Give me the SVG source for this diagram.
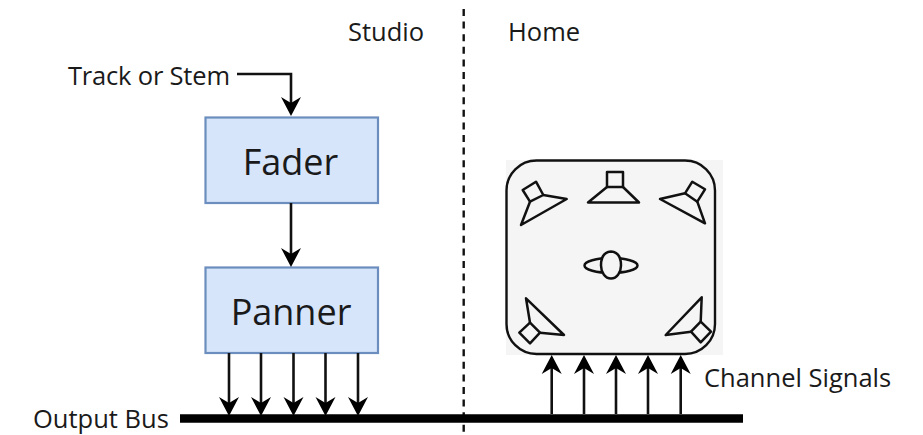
<svg xmlns="http://www.w3.org/2000/svg" width="923" height="435" viewBox="0 0 923 435">
<style>
text{font-family:"Open Sans","Noto Sans","Liberation Sans",sans-serif;fill:#1a1a1a}
.lb{font-size:25.500px}
.bt{font-size:36px;text-anchor:middle}
.box{fill:#d6e5fa;stroke:#6c8ebf;stroke-width:2.2}
.w{fill:none;stroke:#111;stroke-width:2.600}
.a{marker-end:url(#ah)}
.sp{fill:none;stroke:#111;stroke-width:2.500;stroke-linejoin:round}
</style>
<defs>
<marker id="ah" markerUnits="userSpaceOnUse" markerWidth="24" markerHeight="24" viewBox="0 0 24 24" refX="14" refY="12" orient="auto">
<path d="M19 12L0 2L6 12L0 22Z" fill="#000"/>
</marker>
</defs>
<rect width="923" height="435" fill="#fff"/>
<g id="home-room">
<rect x="506" y="160" width="217" height="195" fill="#f5f5f5"/>
<rect x="506.500" y="160.500" width="208.500" height="193.500" rx="30" fill="#f5f5f5" stroke="#111" stroke-width="2.400"/>
</g>
<g id="speaker-top-left" class="sp">
<path d="M522.700 190L536 181.700L543.300 195L530 201.700Z"/><path d="M530 201.700L521 225L566.700 199L543.300 195"/>
</g>
<g id="speaker-top-center" class="sp">
<path d="M607 172H623V187H607Z"/><path d="M607 187L588 202.500H639L623 187"/>
</g>
<g id="speaker-top-right" class="sp">
<path d="M685 193.300L692.300 181.700L705 189.300L697.300 201.700Z"/><path d="M697.300 201.700L705 223.300L660 199L685 193.300"/>
</g>
<g id="listener" class="sp">
<ellipse cx="611" cy="265.500" rx="26.500" ry="7.500"/>
<path d="M611 251.500C619 252 621 259 621 265.500C621 272 617 278.500 611 278.500C605 278.500 601 272 601 265.500C601 259 603 252 611 251.500Z" fill="#f5f5f5"/>
</g>
<g id="speaker-bottom-left" class="sp">
<path d="M519.300 332.700L530 322.700L540 332.700L530 343.300Z"/><path d="M530 322.700L526 298.300L564 335L540 332.700"/>
</g>
<g id="speaker-bottom-right" class="sp">
<path d="M691 331.700L700.700 321.700L711 331.700L700.700 342.300Z"/><path d="M700.700 321.700L701.700 297.300L665.700 335L691 331.700"/>
</g>
<g id="fader"><rect class="box" x="205.500" y="117.500" width="172.500" height="85.500"/><text class="bt" x="290.500" y="175">Fader</text></g>
<g id="panner"><rect class="box" x="205.500" y="267.500" width="172.500" height="85.500"/><text class="bt" x="291" y="325">Panner</text></g>
<g id="connectors">
<path d="M463.700 9V435" fill="none" stroke="#111" stroke-width="2.400" stroke-dasharray="7 5.600"/>
<path d="M180 418.500H743" fill="none" stroke="#000" stroke-width="8.500"/>
<path class="w a" d="M237 74H291V111"/>
<path class="w a" d="M291 203V262"/>
<path class="w a" d="M229 353V411"/>
<path class="w a" d="M261 353V411"/>
<path class="w a" d="M293.500 353V411"/>
<path class="w a" d="M325.500 353V411"/>
<path class="w a" d="M358 353V411"/>
<path class="w a" d="M551.700 414V360"/>
<path class="w a" d="M584 414V360"/>
<path class="w a" d="M616 414V360"/>
<path class="w a" d="M648 414V360"/>
<path class="w a" d="M680.700 414V360"/>
</g>
<g id="labels">
<text class="lb" x="348" y="41">Studio</text>
<text class="lb" x="508" y="41">Home</text>
<text class="lb" x="68" y="85" textLength="162">Track or Stem</text>
<text class="lb" x="33" y="428">Output Bus</text>
<text class="lb" x="704" y="387">Channel Signals</text>
</g>
</svg>
